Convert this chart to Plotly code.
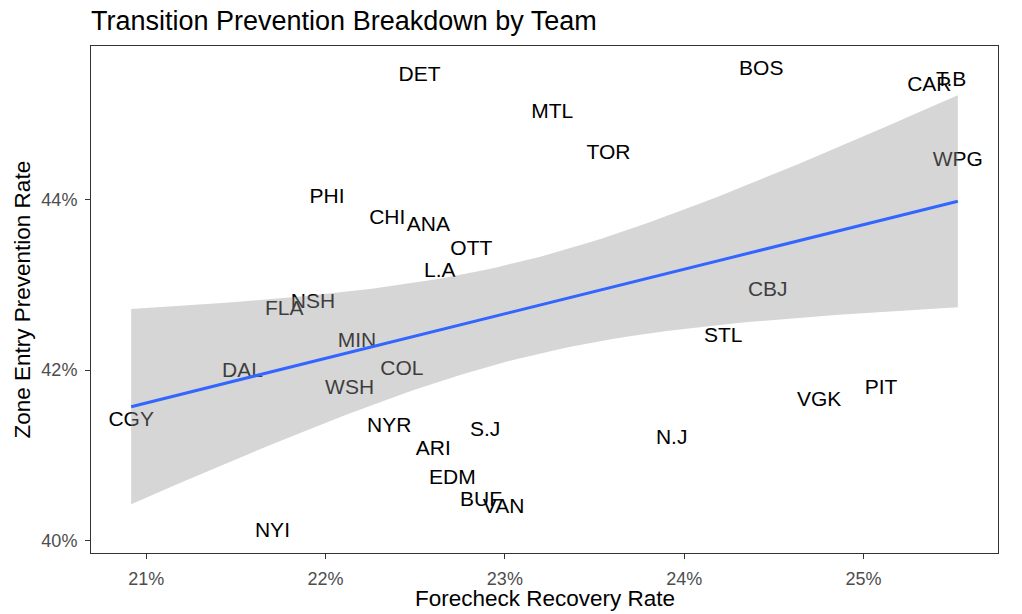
import numpy as np
import plotly.graph_objects as go

# ---- data (percent units) ----
teams = ["CGY", "DET", "BOS", "T.B", "CAR", "WPG", "MTL", "TOR", "PHI", "CHI", "ANA",
         "OTT", "L.A", "NSH", "FLA", "MIN", "DAL", "COL", "WSH", "CBJ", "STL", "PIT",
         "VGK", "N.J", "NYR", "S.J", "ARI", "EDM", "BUF", "VAN", "NYI"]
forecheck_recovery = [20.916, 22.524, 24.430, 25.489, 25.367, 25.526, 23.264, 23.578, 22.008,
                      22.344, 22.573, 22.813, 22.637, 21.930, 21.770, 22.175, 21.537, 22.426,
                      22.134, 24.466, 24.218, 25.098, 24.753, 23.930, 22.355, 22.890, 22.601,
                      22.707, 22.867, 22.993, 21.704]
zone_entry_prevention = [41.406, 45.447, 45.524, 45.388, 45.336, 44.449, 45.023, 44.533, 44.021,
                         43.772, 43.687, 43.406, 43.156, 42.793, 42.707, 42.332, 41.980, 42.000,
                         41.777, 42.928, 42.390, 41.786, 41.640, 41.192, 41.332, 41.285, 41.066,
                         40.731, 40.469, 40.391, 40.102]
x_tick_vals = [21, 22, 23, 24, 25]
x_tick_labels = ["21%", "22%", "23%", "24%", "25%"]
y_tick_vals = [40, 42, 44]
y_tick_labels = ["40%", "42%", "44%"]

# ---- linear fit with 95% confidence band (like geom_smooth(method="lm")) ----
x = np.array(forecheck_recovery)
y = np.array(zone_entry_prevention)
n = len(x)
slope, intercept = np.polyfit(x, y, 1)
xs = np.linspace(x.min(), x.max(), 80)
yhat = intercept + slope * xs
resid = y - (intercept + slope * x)
s = np.sqrt(np.sum(resid ** 2) / (n - 2))
sxx = np.sum((x - x.mean()) ** 2)
se = s * np.sqrt(1.0 / n + (xs - x.mean()) ** 2 / sxx)
T_CRIT = 2.0452  # t(0.975, df=29)
upper = yhat + T_CRIT * se
lower = yhat - T_CRIT * se

FONT = "Liberation Sans, Arial, Helvetica, sans-serif"

fig = go.Figure()
fig.add_trace(go.Scatter(
    x=forecheck_recovery, y=zone_entry_prevention, text=teams,
    mode="text", textposition="middle center",
    textfont=dict(family=FONT, size=21, color="#000000"),
    showlegend=False, hoverinfo="skip"))
fig.add_trace(go.Scatter(
    x=np.concatenate([xs, xs[::-1]]), y=np.concatenate([upper, lower[::-1]]),
    mode="lines", fill="toself", fillcolor="rgba(153,153,153,0.4)",
    line=dict(width=0), showlegend=False, hoverinfo="skip"))
fig.add_trace(go.Scatter(
    x=xs, y=yhat, mode="lines", line=dict(color="#3366FF", width=3),
    showlegend=False, hoverinfo="skip"))

axis_common = dict(
    showgrid=False, zeroline=False, showline=True, mirror=True,
    linecolor="#333333", linewidth=1, ticks="outside", ticklen=5,
    tickwidth=1, tickcolor="#333333", ticklabelstandoff=4, automargin=False,
    tickfont=dict(family=FONT, size=18, color="#4D4D4D"),
)

fig.update_layout(
    width=1022, height=614,
    margin=dict(l=91, r=24, t=46, b=61, autoexpand=False),
    paper_bgcolor="white", plot_bgcolor="white",
    font=dict(family=FONT, color="#000000"),
    title=dict(text="Transition Prevention Breakdown by Team",
               font=dict(family=FONT, size=27, color="#000000"),
               x=0, xref="paper", xanchor="left",
               y=1 - 21 / 614, yref="container", yanchor="middle"),
    xaxis=dict(range=[20.692, 25.750], tickvals=x_tick_vals, ticktext=x_tick_labels,
               **axis_common),
    yaxis=dict(range=[39.856, 45.800], tickvals=y_tick_vals, ticktext=y_tick_labels,
               **axis_common),
    annotations=[
        dict(text="Forecheck Recovery Rate", xref="paper", yref="paper",
             x=0.5, y=0, yshift=-45, xanchor="center", yanchor="middle",
             showarrow=False, font=dict(family=FONT, size=22.5, color="#000000")),
        dict(text="Zone Entry Prevention Rate", xref="paper", yref="paper",
             x=0, y=0.5, xshift=-69, xanchor="center", yanchor="middle", textangle=-90,
             showarrow=False, font=dict(family=FONT, size=22.5, color="#000000")),
    ],
)

fig.write_html("out.html", config={"displayModeBar": False},
               post_script="document.body.style.margin='0';")
